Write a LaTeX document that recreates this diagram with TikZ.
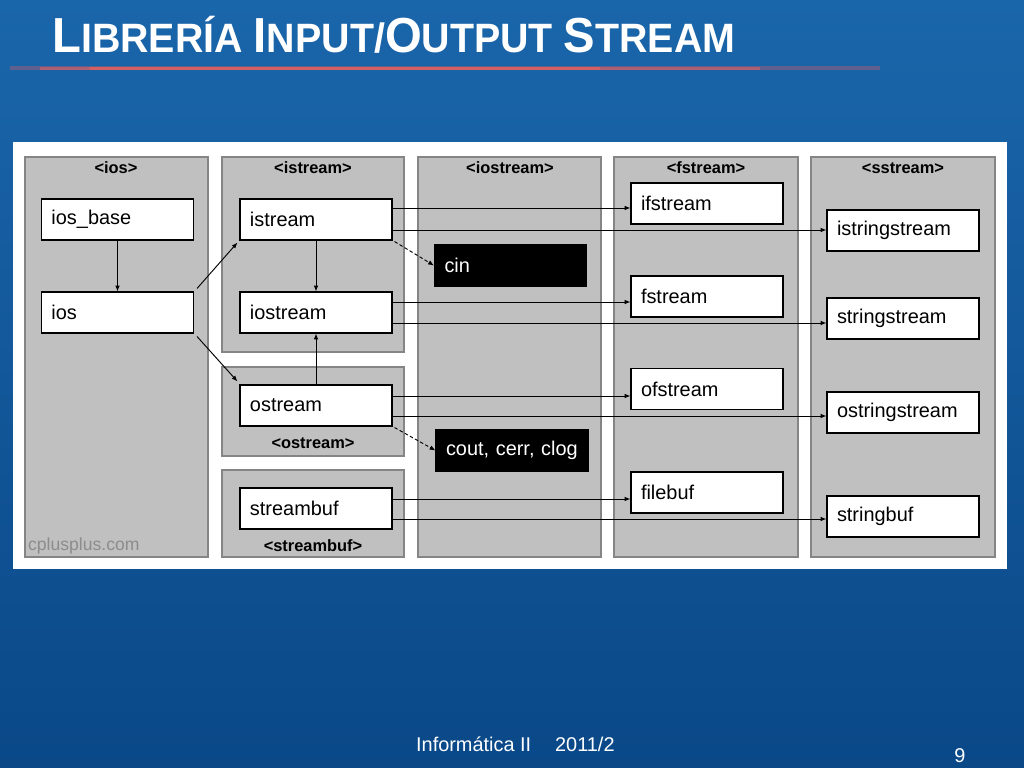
\documentclass[tikz,border=0pt]{standalone}
\usepackage{fontspec}
\setmainfont{Liberation Sans}
\usetikzlibrary{arrows.meta,calc}
\definecolor{bgtop}{HTML}{1A66AA}
\definecolor{bgmid}{HTML}{0E5CA2}
\definecolor{bgbot}{HTML}{0A4888}
\definecolor{colfill}{HTML}{C0C0C0}
\definecolor{coledge}{HTML}{858585}
\definecolor{marker}{HTML}{8C8C8C}
\definecolor{rule}{HTML}{E06060}

\begin{document}
\begin{tikzpicture}[x=0.03cm,y=-0.03cm,
    box/.style={draw=black,line width=0.9pt,fill=white,minimum width=4.56cm,minimum height=1.23cm,
      text width=3.96cm,inner xsep=0.3cm,align=left,font=\fontsize{17}{17}\selectfont},
    blackbox/.style={box,fill=black,text=white},
    column/.style={fill=colfill,draw=coledge,line width=1.8pt},
    header/.style={font=\fontsize{14}{14}\selectfont\bfseries},
    link/.style={-{Latex[length=5pt,width=4pt]},line width=0.8pt},
    weak/.style={link,densely dashed}]
  % slide background
  \shade[top color=bgtop,middle color=bgmid,bottom color=bgbot] (0,0) rectangle (1024,768);
  \useasboundingbox (0,0) rectangle (1024,768);
  \fill[rule,opacity=0.35] (10,66.5) rectangle (880,70.5);
  \fill[rule,opacity=0.6] (40,67) rectangle (760,70);
  \fill[rule,opacity=0.8] (90,67) rectangle (600,70);
  \node[anchor=base west,text=white,inner sep=0] (title) at (52,53)
    {\scalebox{0.96}[1]{\bfseries\fontsize{42}{42}\selectfont L\fontsize{35}{35}\selectfont IBRERÍA
     \fontsize{42}{42}\selectfont I\fontsize{35}{35}\selectfont NPUT/\fontsize{42}{42}\selectfont O\fontsize{35}{35}\selectfont UTPUT
     \fontsize{42}{42}\selectfont S\fontsize{35}{35}\selectfont TREAM}};
  % white panel and header columns
  \fill[white] (13,142) rectangle (1007,569);
  \draw[column] (25,157) rectangle (208,557);
  \draw[column] (222,157) rectangle (404,352);
  \draw[column] (222,367) rectangle (404,456);
  \draw[column] (222,470) rectangle (404,557);
  \draw[column] (418,157) rectangle (601,557);
  \draw[column] (614,157) rectangle (798,557);
  \draw[column] (811,157) rectangle (995,557);
  \node[header] (hios) at (116,168) {<ios>};
  \node[header] (histream) at (313,168) {<istream>};
  \node[header] (hiostream) at (510,168) {<iostream>};
  \node[header] (hfstream) at (706,168) {<fstream>};
  \node[header] (hsstream) at (903,168) {<sstream>};
  \node[header] (hostream) at (313,443) {<ostream>};
  \node[header] (hstreambuf) at (313,546) {<streambuf>};
  \node[anchor=base west,text=marker,font=\fontsize{15}{15}\selectfont] (site) at (24,550) {cplusplus.com};
  % classes
  \node[box] (iosbase) at (117.5,219.5) {ios\_base};
  \node[box] (ios) at (117.5,312.5) {ios};
  \node[box] (istream) at (316,219.5) {istream};
  \node[box] (iostream) at (316,312.5) {iostream};
  \node[box] (ostream) at (316,405.5) {ostream};
  \node[box] (streambuf) at (316,508.5) {streambuf};
  \node[blackbox] (cin) at (510.5,265.5) {cin};
  \node[blackbox] (cout) at (512,450.5) {cout, cerr, clog};
  \node[box] (ifstream) at (707,203.5) {ifstream};
  \node[box] (fstream) at (707,296.5) {fstream};
  \node[box] (ofstream) at (707,389) {ofstream};
  \node[box] (filebuf) at (707,492.5) {filebuf};
  \node[box] (istringstream) at (903,230.5) {istringstream};
  \node[box] (stringstream) at (903,318.5) {stringstream};
  \node[box] (ostringstream) at (903,412.5) {ostringstream};
  \node[box] (stringbuf) at (903,516.5) {stringbuf};
  % inheritance
  \draw[link] (iosbase) -- (ios);
  \draw[link] (istream) -- (iostream);
  \draw[link] (ostream) -- (iostream);
  \draw[link] ([shift={(3,-3)}]ios.north east) -- ([shift={(-2,2)}]istream.south west);
  \draw[link] ([shift={(3,3)}]ios.south east) -- ([shift={(-2,-3)}]ostream.north west);
  \foreach \src/\dst/\dy in {istream/ifstream/-11.5,istream/istringstream/10.5,
      iostream/fstream/-10.5,iostream/stringstream/10.5,
      ostream/ofstream/-9.5,ostream/ostringstream/10.5,
      streambuf/filebuf/-9.5,streambuf/stringbuf/10.5}
    \draw[link] ($(\src.east)+(0,\dy)$) coordinate (p) -- (p -| \dst.west);
  % objects
  \draw[weak] ([shift={(2,1)}]istream.south east) -- (cin.west);
  \draw[weak] ([shift={(2,1)}]ostream.south east) -- (cout.west);
  % footer
  \node[text=white,font=\fontsize{17}{17}\selectfont,anchor=base west] (course) at (412,751) {Informática II\hspace{1.2em}2011/2};
  \node[text=white,font=\fontsize{17}{17}\selectfont,anchor=base] (page) at (960,762) {9};
\end{tikzpicture}
\end{document}
